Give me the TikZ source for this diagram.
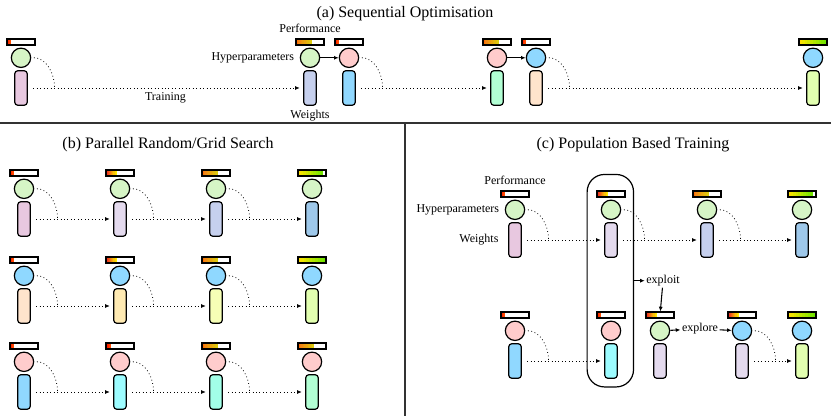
\documentclass[tikz,border=0pt]{standalone}
\usepackage{fontspec}
\setmainfont{Liberation Serif}
\usepackage{xcolor}
\usetikzlibrary{positioning, fit, arrows.meta}

\definecolor{hgreen}{HTML}{D6F5C6}
\definecolor{hpink}{HTML}{FFCCCC}
\definecolor{hblue}{HTML}{8FD8FF}
\definecolor{wmauve}{HTML}{E8C8E0}
\definecolor{wlav}{HTML}{E4DAEE}
\definecolor{wperi}{HTML}{C6D0EE}
\definecolor{wblue}{HTML}{9EC8EA}
\definecolor{wpeach}{HTML}{FFE4CC}
\definecolor{wsand}{HTML}{FFEAB2}
\definecolor{wpale}{HTML}{F6FFB6}
\definecolor{wlime}{HTML}{E2FFB0}
\definecolor{wsky}{HTML}{90D8FF}
\definecolor{wcyan}{HTML}{9CFCFF}
\definecolor{waqua}{HTML}{A2FFE8}
\definecolor{wmint}{HTML}{B2FFD4}
\definecolor{sep}{HTML}{333333}

% one member: performance bar, hyperparameters, weights
\newcommand{\agent}[5]{%
  \node[perfbar, #3] (#1-p) at (#2) {};
  \node[hyper, fill=#4, below=1.5pt of #1-p] (#1-h) {};
  \node[weights, fill=#5, below=1.5pt of #1-h] (#1-w) {};
}
% training step from one member to the next
\newcommand{\train}[2]{%
  \coordinate (#1-m) at ([xshift=20pt]#1-w.east);
  \draw[curve] (#1-h.east) to[out=0, in=90] (#1-m);
  \draw[trainline] (#1-w) -- (#2-w);
}

\begin{document}
\begin{tikzpicture}[x=0.75pt, y=-0.75pt, >={Latex[length=3.5pt,width=3pt]},
    hyper/.style={circle, draw, line width=0.9pt, minimum size=14.5pt, inner sep=0pt},
    weights/.style={rectangle, rounded corners=2.5pt, draw, line width=0.9pt,
      minimum width=9.5pt, minimum height=26pt, inner sep=0pt},
    perfbar/.style={rectangle, draw, fill=white, line width=0.8pt,
      minimum width=21pt, minimum height=4.5pt, inner sep=0pt},
    perf/.style n args={3}{path picture={
      \foreach \k [evaluate=\k as \mix using int(\k*100/9)] in {0,...,9}
        \fill[#2!\mix!#1] ([xshift=\k*#3/10]path picture bounding box.south west)
          rectangle ([xshift=(\k+1)*#3/10+0.1pt]path picture bounding box.north west);}},
    lv0/.style={perf={red}{orange!60!red}{2.2pt}},
    lvr/.style={perf={red}{orange!60!red}{3.2pt}},
    lv1/.style={perf={red}{yellow}{8pt}},
    lv2/.style={perf={orange!85!red}{yellow!85!green}{12pt}},
    lv3/.style={perf={yellow!80!orange}{green!70!yellow}{19pt}},
    lv4/.style={perf={yellow!80!orange}{green!70!yellow}{21pt}},
    curve/.style={dotted, line width=0.6pt, shorten <=2pt},
    trainline/.style={dotted, line width=0.6pt, ->, shorten <=4pt, shorten >=2.5pt},
    title/.style={font=\fontsize{12}{14}\selectfont},
    label/.style={font=\fontsize{9}{11}\selectfont, inner sep=1pt}]
    \useasboundingbox (0,0) rectangle (831,416);

    % panels
    \draw[sep, line width=1pt] (0,123) -- (831,123);
    \draw[sep, line width=1pt] (405,123) -- (405,416);

    % (a) sequential
    \node[title] (ta) at (405,14) {(a) Sequential Optimisation};
    \agent{a1}{21,42}{lv0}{hgreen}{wmauve}
    \agent{a2}{310,42}{lv2}{hgreen}{wperi}
    \agent{a3}{349,42}{lv0}{hpink}{wsky}
    \agent{a4}{497,42}{lv2}{hpink}{wmint}
    \agent{a5}{536,42}{lv0}{hblue}{wpeach}
    \agent{a6}{813,42}{lv4}{hblue}{wlime}
    \node[label, above=3pt of a2-p] (perfa) {Performance};
    \node[label, left=3pt of a2-h] (hypa) {Hyperparameters};
    \node[label, below=2pt of a2-w] (wa) {Weights};
    \coordinate (a1-m) at ([xshift=20pt]a1-w.east);
    \draw[curve] (a1-h.east) to[out=0, in=90] (a1-m);
    \draw[trainline] (a1-w) -- node[label, below=2pt] (tr) {Training} (a2-w);
    \draw[->, line width=0.8pt] (a2-h) -- (a3-h);
    \train{a3}{a4}
    \draw[->, line width=0.8pt] (a4-h) -- (a5-h);
    \train{a5}{a6}

    % (b) parallel random/grid search
    \node[title] (tb) at (168,145) {(b) Parallel Random/Grid Search};
    \agent{b11}{24,173}{lv0}{hgreen}{wmauve}
    \agent{b12}{120,173}{lv1}{hgreen}{wlav}
    \agent{b13}{216,173}{lv2}{hgreen}{wperi}
    \agent{b14}{312,173}{lv3}{hgreen}{wblue}
    \agent{b21}{24,260}{lv0}{hblue}{wpeach}
    \agent{b22}{120,260}{lv1}{hblue}{wsand}
    \agent{b23}{216,260}{lv2}{hblue}{wpale}
    \agent{b24}{312,260}{lv4}{hblue}{wlime}
    \agent{b31}{24,346}{lv0}{hpink}{wsky}
    \agent{b32}{120,346}{lvr}{hpink}{wcyan}
    \agent{b33}{216,346}{lv2}{hpink}{waqua}
    \agent{b34}{312,346}{lv2}{hpink}{wmint}
    \train{b11}{b12} \train{b12}{b13} \train{b13}{b14}
    \train{b21}{b22} \train{b22}{b23} \train{b23}{b24}
    \train{b31}{b32} \train{b32}{b33} \train{b33}{b34}

    % (c) population based training
    \node[title] (tc) at (633,145) {(c) Population Based Training};
    \agent{t1}{515,194}{lv0}{hgreen}{wmauve}
    \agent{t2}{611,194}{lv1}{hgreen}{wlav}
    \agent{t3}{707,194}{lv2}{hgreen}{wperi}
    \agent{t4}{802,194}{lv3}{hgreen}{wblue}
    \agent{u1}{515,315}{lv0}{hpink}{wsky}
    \agent{u2}{611,315}{lv0}{hpink}{wcyan}
    \agent{u3}{660,315}{lv1}{hgreen}{wlav}
    \agent{u4}{742,315}{lv1}{hblue}{wlav}
    \agent{u5}{802,315}{lv4}{hblue}{wlime}
    \node[label, above=3pt of t1-p] (perfc) {Performance};
    \node[label, left=3pt of t1-h] (hypc) {Hyperparameters};
    \node[label, left=6pt of t1-w] (wc) {Weights};
    \train{t1}{t2} \train{t2}{t3} \train{t3}{t4}
    \train{u1}{u2}
    \train{u4}{u5}

    \coordinate (boxtop) at ([xshift=-7pt, yshift=12pt]t2-p.north west);
    \coordinate (boxbot) at ([xshift=6pt, yshift=-6pt]u2-w.south east -| u2-p.east);
    \node[draw, line width=0.9pt, rounded corners=13pt, inner sep=0pt,
      fit=(boxtop)(boxbot)] (box) {};
    \node[label, right=8pt of box.east] (exploit) {exploit};
    \node[label] (explore) at (700,329) {explore};
    \draw[->, line width=0.8pt] (box.east) -- (exploit);
    \draw[->, line width=0.8pt] (exploit) -- (u3-p);
    \draw[->, line width=0.8pt] (u3-h) -- (explore);
    \draw[->, line width=0.8pt] (explore) -- (u4-h);
\end{tikzpicture}
\end{document}
